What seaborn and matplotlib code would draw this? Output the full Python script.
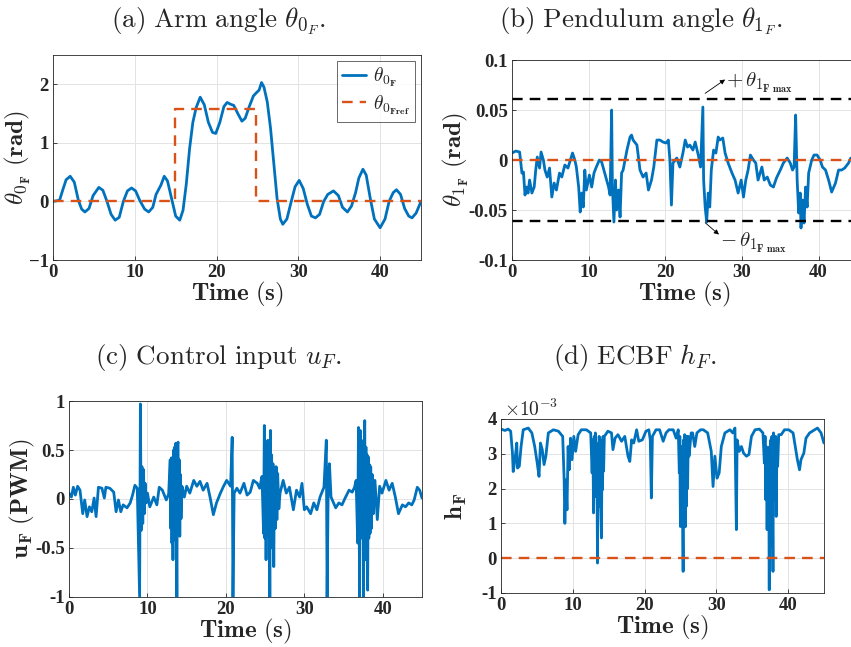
import matplotlib
matplotlib.use("Agg")
import matplotlib.pyplot as plt
import seaborn as sns

# ---- data ----
# (a) arm angle
t_arm = [0, 0.8, 1.2, 1.6, 2.1, 2.6, 3.1, 3.5, 3.9, 4.4, 4.9, 5.6, 6.1, 6.6, 7.1, 7.6, 8.1, 8.6, 9.1,
         9.6, 10.1, 10.6, 11.2, 11.7, 12.2, 12.6, 12.9, 13.2, 13.6, 14.0, 14.5, 15.0, 15.5, 15.9, 16.3,
         16.7, 17.1, 17.5, 18.0, 18.5, 19.0, 19.5, 19.9, 20.4, 20.9, 21.3, 21.7, 22.1, 22.6, 23.1, 23.5,
         24.0, 24.5, 24.9, 25.2, 25.5, 25.8, 26.2, 26.6, 27.0, 27.4, 27.8, 28.1, 28.6, 29.1, 29.6, 30.1,
         30.6, 31.1, 31.6, 32.1, 32.6, 33.1, 33.6, 34.3, 34.9, 35.4, 36.0, 36.5, 37.0, 37.4, 37.9, 38.3,
         38.8, 39.3, 40.0, 40.6, 41.1, 41.6, 42.0, 42.5, 43.0, 43.5, 43.9, 44.4, 45.0]
arm = [0, 0.02, 0.2, 0.37, 0.43, 0.33, 0.02, -0.13, -0.18, -0.12, 0.1, 0.24, 0.19, 0.0, -0.22, -0.32,
       -0.27, 0.0, 0.18, 0.23, 0.18, 0.02, -0.13, -0.18, -0.1, 0.12, 0.2, 0.28, 0.43, 0.35, 0.05, -0.25,
       -0.32, -0.15, 0.3, 0.9, 1.35, 1.6, 1.78, 1.65, 1.35, 1.18, 1.16, 1.35, 1.62, 1.69, 1.66, 1.64,
       1.5, 1.37, 1.42, 1.62, 1.8, 1.86, 1.9, 2.03, 1.95, 1.7, 1.25, 0.65, 0.05, -0.3, -0.39, -0.3,
       -0.02, 0.25, 0.36, 0.22, -0.05, -0.25, -0.28, -0.22, 0.0, 0.12, 0.18, 0.1, -0.1, -0.18, -0.08,
       0.15, 0.4, 0.55, 0.45, 0.05, -0.3, -0.45, -0.3, 0.0, 0.15, 0.2, 0.12, -0.12, -0.25, -0.28, -0.2, 0.0]
t_ref = [0, 14.9, 14.9, 24.8, 24.8, 45]
arm_ref = [0, 0, 1.57, 1.57, 0, 0]

# (b) pendulum angle
t_pend = [0, 0.5, 1.0, 1.3, 1.5, 1.7, 1.9, 2.1, 2.3, 2.6, 2.9, 3.1, 3.3, 3.6, 3.8, 4.1, 4.3, 4.6, 4.9,
          5.2, 5.5, 5.8, 6.2, 6.5, 6.9, 7.3, 7.9, 8.2, 8.4, 8.7, 8.9, 9.1, 9.3, 9.5, 9.7, 10.1, 10.4,
          10.7, 11.0, 11.4, 11.7, 12.1, 12.6, 12.8, 13.0, 13.1, 13.3, 13.5, 13.65, 13.9, 14.1, 14.3,
          14.5, 15.0, 15.4, 15.6, 15.8, 16.3, 16.7, 17.1, 17.5, 17.8, 18.2, 18.5, 18.9, 19.3, 19.7,
          20.1, 20.4, 20.6, 20.8, 21.0, 21.5, 21.9, 22.3, 22.6, 22.9, 23.2, 23.6, 23.9, 24.3, 24.6,
          24.9, 25.0, 25.2, 25.4, 25.6, 25.8, 26.0, 26.3, 26.6, 26.9, 27.1, 27.5, 27.8, 28.2, 28.7,
          29.1, 29.5, 29.9, 30.2, 30.5, 30.8, 31.1, 31.5, 31.8, 32.1, 32.6, 32.9, 33.3, 33.7, 34.1,
          34.5, 35.0, 35.4, 35.9, 36.3, 36.6, 36.8, 37.0, 37.2, 37.4, 37.6, 37.7, 37.9, 38.1, 38.3,
          38.5, 38.7, 39.1, 39.4, 39.8, 40.2, 40.5, 40.9, 41.3, 41.7, 42.2, 42.6, 43.0, 43.4, 43.9,
          44.2, 44.6, 45.0]
pend = [0.007, 0.009, 0.008, -0.013, -0.012, -0.035, -0.027, -0.033, -0.02, -0.033, -0.027, -0.01,
        0.003, -0.008, 0.008, 0.0, -0.01, -0.017, -0.008, -0.037, -0.023, -0.03, -0.013, -0.017,
        -0.005, -0.008, 0.007, 0.0, -0.007, -0.027, -0.052, -0.033, -0.047, -0.01, -0.03, -0.015,
        -0.027, -0.013, -0.007, 0.0, -0.002, -0.013, -0.027, -0.035, 0.05, -0.027, -0.062, -0.02,
        -0.05, -0.03, -0.057, -0.013, -0.01, 0.01, 0.023, 0.025, 0.02, 0.015, -0.01, -0.017, -0.013,
        -0.03, -0.02, -0.007, 0.02, 0.02, 0.018, 0.017, 0.02, 0.0, -0.045, -0.003, 0.002, -0.007,
        0.007, 0.02, 0.013, 0.015, 0.01, 0.018, 0.005, -0.007, 0.053, -0.02, -0.047, -0.062, -0.033,
        -0.047, -0.01, 0.01, 0.007, 0.023, 0.02, 0.022, 0.007, -0.003, -0.013, -0.02, -0.033, -0.02,
        -0.037, -0.02, -0.01, 0.005, 0.0, -0.003, -0.02, -0.007, -0.02, -0.017, -0.025, -0.027,
        -0.018, -0.01, -0.003, 0.002, -0.003, -0.01, -0.007, 0.045, -0.02, -0.053, -0.033, -0.068,
        -0.04, -0.063, -0.027, -0.047, -0.013, 0.0, 0.005, 0.005, 0.0, -0.007, -0.01, -0.02, -0.032,
        -0.023, -0.01, -0.01, -0.008, -0.003, 0.002, 0.001, 0.0]
pend_max = 0.061

# (c) control input, (time, value)
u_pts = [(0, 0.06), (0.3, 0.02), (0.55, 0.12), (0.8, 0.04), (1.1, 0.13), (1.4, 0.09), (1.75, -0.15),
         (2.0, -0.01), (2.3, -0.18), (2.6, -0.08), (2.9, -0.13), (3.2, 0.01), (3.45, -0.18), (3.75, 0.12),
         (4.2, 0.11), (4.5, 0.01), (4.7, 0.12), (5.2, 0.11), (5.7, 0.07), (6.0, -0.13), (6.3, -0.01),
         (6.6, -0.13), (6.9, -0.06), (7.4, -0.09), (7.8, -0.04), (8.1, 0.04), (8.4, 0.14), (8.7, 0.11),
         (9.0, -1.0), (9.1, 0.97), (9.2, -0.32), (9.3, 0.33), (9.4, -0.25), (9.5, 0.3), (9.6, -0.15),
         (9.7, 0.16), (9.85, -0.04), (10.0, 0.06), (10.3, -0.08), (10.8, 0.02), (11.2, -0.06),
         (11.5, 0.12), (11.9, 0.09), (12.4, -0.01), (12.7, 0.05),
         (12.9, 0.4), (12.97, -0.3), (13.05, 0.42), (13.12, -0.45), (13.2, 0.38), (13.25, -0.62),
         (13.32, 0.5), (13.4, -0.35), (13.47, 0.53), (13.55, -0.42), (13.62, 0.57), (13.7, -0.3),
         (13.75, -1.0), (13.82, 0.55), (13.9, 0.58), (13.97, -0.28), (14.05, 0.4), (14.12, -0.38),
         (14.2, 0.25), (14.28, -0.2), (14.4, 0.13),
         (14.7, 0.02), (15.0, 0.13), (15.4, 0.06), (15.9, 0.19), (16.3, 0.13), (16.7, 0.18), (17.1, 0.09),
         (17.6, 0.16), (18.0, 0.01), (18.4, -0.16), (18.8, -0.04), (19.3, 0.06), (19.7, 0.13), (20.1, 0.19),
         (20.6, 0.13), (20.8, 0.63), (20.9, -1.0), (21.05, 0.06), (21.4, 0.11), (21.8, 0.06), (22.3, 0.16),
         (22.7, 0.04), (23.1, 0.07), (23.5, 0.19), (24.0, 0.16), (24.3, 0.11), (24.6, 0.23),
         (24.8, -0.35), (24.9, 0.75), (24.97, -0.4), (25.05, 0.5), (25.12, -0.62), (25.2, 0.53),
         (25.27, -0.3), (25.35, 0.6), (25.42, -0.38), (25.5, 0.4), (25.6, -1.0), (25.68, 0.7),
         (25.75, -0.45), (25.83, 0.45), (25.9, -0.5), (26.0, 0.36), (26.1, -0.69), (26.2, 0.3),
         (26.3, -0.3), (26.4, 0.33), (26.5, -0.21), (26.6, 0.26), (26.75, -0.1), (26.9, 0.06),
         (27.3, 0.19), (27.7, 0.06), (28.1, 0.12), (28.6, -0.11), (29.0, 0.09), (29.4, 0.02), (29.7, 0.16),
         (30.0, -0.11), (30.3, -0.08), (30.8, -0.15), (31.2, -0.04), (31.6, -0.11), (32.0, 0.02),
         (32.5, 0.12), (32.8, 0.6), (32.9, -1.0), (33.05, 0.19), (33.2, 0.36), (33.4, 0.02), (34.0, -0.09),
         (34.4, -0.04), (34.8, -0.06), (35.2, 0.01), (35.7, 0.09), (36.1, 0.07), (36.4, 0.12), (36.6, 0.19),
         (36.8, -0.45), (36.9, 0.73), (37.05, -1.0), (37.12, 0.7), (37.2, -0.4), (37.28, 0.6),
         (37.35, -0.21), (37.45, 0.53), (37.55, -1.0), (37.62, 0.5), (37.7, 0.8), (37.77, -0.62),
         (37.85, 0.53), (37.92, -0.5), (38.0, 0.45), (38.07, -0.93), (38.15, 0.43), (38.22, -0.4),
         (38.3, 0.35), (38.38, -0.35), (38.46, 0.33), (38.55, -0.3), (38.65, 0.25), (38.8, -0.15),
         (39.0, 0.19), (39.3, -0.21),
         (39.6, 0.13), (39.9, 0.06), (40.4, 0.19), (40.8, 0.09), (41.2, 0.16), (41.6, 0.02), (42.0, -0.15),
         (42.5, -0.06), (42.9, -0.08), (43.3, -0.04), (43.7, -0.06), (44.0, -0.01), (44.4, 0.12),
         (44.7, 0.09), (45.0, 0.01)]

# (d) ECBF, (time, value in units of 1e-3)
h_pts = [(0, 3.71), (0.55, 3.67), (1.0, 3.71), (1.35, 3.65), (1.6, 3.02), (1.7, 2.49), (1.95, 2.83),
         (2.2, 3.31), (2.3, 2.59), (2.55, 2.64), (2.8, 3.21), (3.1, 3.69), (3.8, 3.74), (4.3, 3.6),
         (4.7, 3.21), (5.05, 2.73), (5.3, 2.35), (5.5, 3.31), (5.75, 3.12), (6.0, 2.69), (6.25, 2.93),
         (6.6, 3.6), (7.3, 3.69), (8.0, 3.65), (8.6, 3.5), (8.8, 2.25), (8.9, 1.0), (9.05, 2.25),
         (9.2, 1.39), (9.35, 3.21), (9.5, 2.54), (9.7, 3.45), (9.9, 2.83), (10.15, 3.5), (10.4, 3.07),
         (10.75, 3.55), (11.2, 3.69), (11.9, 3.69),
         (12.5, 3.6), (12.7, 2.45), (12.8, 3.4), (12.9, 1.3), (13.0, 3.5), (13.07, 2.0), (13.15, 3.6),
         (13.25, 1.77), (13.32, 3.3), (13.4, 1.5), (13.45, -0.14), (13.52, 3.21), (13.6, 1.49),
         (13.68, 3.5), (13.75, 2.2), (13.82, 3.4), (13.9, 1.5), (14.0, 0.58), (14.08, 3.21),
         (14.15, 1.97), (14.22, 3.5), (14.3, 2.5), (14.4, 3.5), (14.9, 3.65),
         (15.4, 3.6), (15.6, 3.12), (15.9, 3.45), (16.3, 3.55), (16.8, 3.36), (17.25, 3.5), (17.7, 2.93),
         (17.95, 2.78), (18.2, 3.4), (18.5, 3.31), (18.9, 3.69), (19.2, 3.36), (19.7, 3.4), (20.2, 3.65),
         (20.6, 3.69), (20.8, 3.4), (20.95, 1.73), (21.1, 3.5), (21.6, 3.69), (22.1, 3.69), (22.6, 3.36),
         (23.0, 3.6), (23.4, 3.69), (24.0, 3.69), (24.4, 3.45),
         (24.7, 3.69), (24.85, 2.45), (24.92, 3.5), (25.0, 0.91), (25.08, 3.21), (25.15, 1.1),
         (25.22, 3.0), (25.3, 1.5), (25.38, -0.38), (25.45, 3.4), (25.52, 1.0), (25.6, 3.55),
         (25.68, 0.9), (25.75, 3.3), (25.82, 1.49), (25.9, 3.5), (26.0, 2.0), (26.1, 3.5), (26.2, 2.93),
         (26.5, 3.6), (26.7, 3.6), (27.0, 3.21), (27.3, 3.6), (27.8, 3.69), (28.2, 3.69), (28.8, 3.6),
         (29.3, 3.07), (29.55, 2.06), (29.8, 2.93), (30.1, 2.3), (30.4, 2.45), (30.7, 3.21), (31.2, 3.6),
         (31.9, 3.69), (32.3, 3.6), (32.6, 3.74), (32.8, 0.82), (32.9, 3.4), (33.2, 3.07), (33.5, 3.21),
         (33.8, 3.02), (34.2, 2.93), (34.55, 2.98), (34.9, 3.5), (35.4, 3.69), (36.0, 3.71),
         (36.5, 3.6), (36.7, 2.73), (36.8, 3.5), (36.9, 1.68), (37.0, 3.2), (37.08, 0.82), (37.15, 2.83),
         (37.22, 1.7), (37.3, 3.0), (37.38, -0.91), (37.45, 3.21), (37.52, 1.2), (37.6, 3.4),
         (37.68, 0.34), (37.75, 3.5), (37.82, 1.5), (37.9, -0.38), (37.97, 3.6), (38.05, 1.68),
         (38.12, 3.4), (38.2, 2.0), (38.28, 3.5), (38.35, 1.2), (38.45, 3.21), (38.55, 2.64), (38.7, 3.55),
         (39.05, 3.55), (39.5, 3.69), (40.1, 3.69), (40.7, 3.6), (41.0, 3.21), (41.3, 2.83), (41.6, 2.54),
         (41.8, 2.83), (42.2, 3.02), (42.5, 3.45), (43.0, 3.6), (43.7, 3.69), (44.1, 3.74), (44.6, 3.6),
         (45.0, 3.31)]
t_u, u = zip(*u_pts)
t_h, h = zip(*h_pts)

blue = "#0072BD"
orange = "#D95319"

sns.set_style("ticks")
plt.rcParams["mathtext.fontset"] = "cm"
plt.rcParams["font.family"] = ["Liberation Serif", "DejaVu Serif"]

fig = plt.figure(figsize=(8.51, 6.47), dpi=100)
ax_a = fig.add_axes([0.0623, 0.5981, 0.4324, 0.3169])
ax_b = fig.add_axes([0.6016, 0.5981, 0.4054, 0.3091])
ax_c = fig.add_axes([0.0811, 0.0773, 0.4148, 0.3029])
ax_d = fig.add_axes([0.5887, 0.0835, 0.3795, 0.2689])

kw = dict(estimator=None, sort=False, legend=False)
dash = (4.5, 3)
lab_fs = 18

# (a)
sns.lineplot(x=t_arm, y=arm, ax=ax_a, color=blue, linewidth=2.0, label=r"$\theta_{\mathbf{0_F}}$",
             estimator=None, sort=False)
sns.lineplot(x=t_ref, y=arm_ref, ax=ax_a, color=orange, linewidth=1.7,
             label=r"$\theta_{\mathbf{0_{Fref}}}$", estimator=None, sort=False)
ax_a.lines[1].set_dashes(dash)
ax_a.set_ylim(-1, 2.5)
ax_a.set_yticks([-1, 0, 1, 2])
ax_a.set_ylabel(r"$\theta_{\mathbf{0_F}}\ \mathbf{(rad)}$", fontsize=lab_fs)
ax_a.yaxis.set_label_coords(-0.055, 0.5)
leg = ax_a.legend(loc="upper right", fontsize=14, handlelength=1.2, frameon=True, fancybox=False,
                  borderpad=0.25, labelspacing=0.2, handletextpad=0.4, borderaxespad=0.3)
leg.get_frame().set_edgecolor("#262626")
leg.get_frame().set_linewidth(0.6)

# (b)
sns.lineplot(x=t_pend, y=pend, ax=ax_b, color=blue, linewidth=2.0, **kw)
sns.lineplot(x=[0, 45], y=[0, 0], ax=ax_b, color=orange, linewidth=1.7, **kw)
sns.lineplot(x=[0, 45], y=[pend_max, pend_max], ax=ax_b, color="black", linewidth=1.7, **kw)
sns.lineplot(x=[0, 45], y=[-pend_max, -pend_max], ax=ax_b, color="black", linewidth=1.7, **kw)
for ln in ax_b.lines[1:]:
    ln.set_dashes(dash)
ax_b.set_ylim(-0.1, 0.1)
ax_b.set_yticks([-0.1, -0.05, 0, 0.05, 0.1])
ax_b.set_yticklabels(["-0.1", "-0.05", "0", "0.05", "0.1"])
ax_b.set_ylabel(r"$\theta_{\mathbf{1_F}}\ \mathbf{(rad)}$", fontsize=lab_fs)
ax_b.yaxis.set_label_coords(-0.12, 0.5)
arrow = dict(arrowstyle="-|>", color="black", lw=0.6, shrinkA=0, shrinkB=0, mutation_scale=7)
ax_b.annotate("", xy=(27.8, 0.0805), xytext=(25.2, 0.0667), arrowprops=arrow)
ax_b.text(27.9, 0.077, r"$+\,\theta_{1_{\mathbf{F\ max}}}$", fontsize=15, va="center")
ax_b.annotate("", xy=(27.0, -0.0745), xytext=(25.2, -0.0627), arrowprops=arrow)
ax_b.text(27.1, -0.083, r"$-\,\theta_{1_{\mathbf{F\ max}}}$", fontsize=15, va="center")

# (c)
sns.lineplot(x=t_u, y=u, ax=ax_c, color=blue, linewidth=2.0, **kw)
ax_c.set_ylim(-1, 1)
ax_c.set_yticks([-1, -0.5, 0, 0.5, 1])
ax_c.set_yticklabels(["-1", "-0.5", "0", "0.5", "1"])
ax_c.set_ylabel(r"$\mathbf{u_F\ (PWM)}$", fontsize=lab_fs)
ax_c.yaxis.set_label_coords(-0.09, 0.5)

# (d)
sns.lineplot(x=t_h, y=h, ax=ax_d, color=blue, linewidth=2.0, **kw)
sns.lineplot(x=[0, 45], y=[0, 0], ax=ax_d, color=orange, linewidth=1.7, **kw)
ax_d.lines[1].set_dashes(dash)
ax_d.set_ylim(-1, 4)
ax_d.set_yticks([-1, 0, 1, 2, 3, 4])
ax_d.set_yticklabels(["-1", "0", "1", "2", "3", "4"])
ax_d.set_ylabel(r"$\mathbf{h_F}$", fontsize=lab_fs)
ax_d.yaxis.set_label_coords(-0.1, 0.5)
ax_d.text(0.01, 1.015, r"$\times10^{-3}$", transform=ax_d.transAxes, fontsize=14, color="#262626")

for ax in (ax_a, ax_b, ax_c, ax_d):
    ax.set_xlim(0, 45)
    ax.set_xticks([0, 10, 20, 30, 40])
    ax.set_xlabel(r"$\mathbf{Time\ (s)}$", fontsize=lab_fs, labelpad=-1)
    ax.grid(True, color="#e3e3e3", linewidth=0.7)
    ax.set_axisbelow(True)
    ax.tick_params(direction="in", length=3, width=0.6, color="#262626", labelsize=13.5, pad=3)
    for lab in ax.get_xticklabels() + ax.get_yticklabels():
        lab.set_fontweight("bold")
    for sp in ax.spines.values():
        sp.set_visible(True)
        sp.set_color("#262626")
        sp.set_linewidth(0.6)

# subplot captions
cap_fs = 19.5
fig.text(0.257, 0.968, r"$\mathrm{(a)\ Arm\ angle\ }\theta_{0_F}\mathrm{.}$", ha="center", va="center", fontsize=cap_fs)
fig.text(0.753, 0.968, r"$\mathrm{(b)\ Pendulum\ angle\ }\theta_{1_F}\mathrm{.}$", ha="center", va="center", fontsize=cap_fs)
fig.text(0.257, 0.448, r"$\mathrm{(c)\ Control\ input\ }u_F\mathrm{.}$", ha="center", va="center", fontsize=cap_fs)
fig.text(0.746, 0.448, r"$\mathrm{(d)\ ECBF\ }h_F\mathrm{.}$", ha="center", va="center", fontsize=cap_fs)

fig.savefig("out.png", dpi=100)
